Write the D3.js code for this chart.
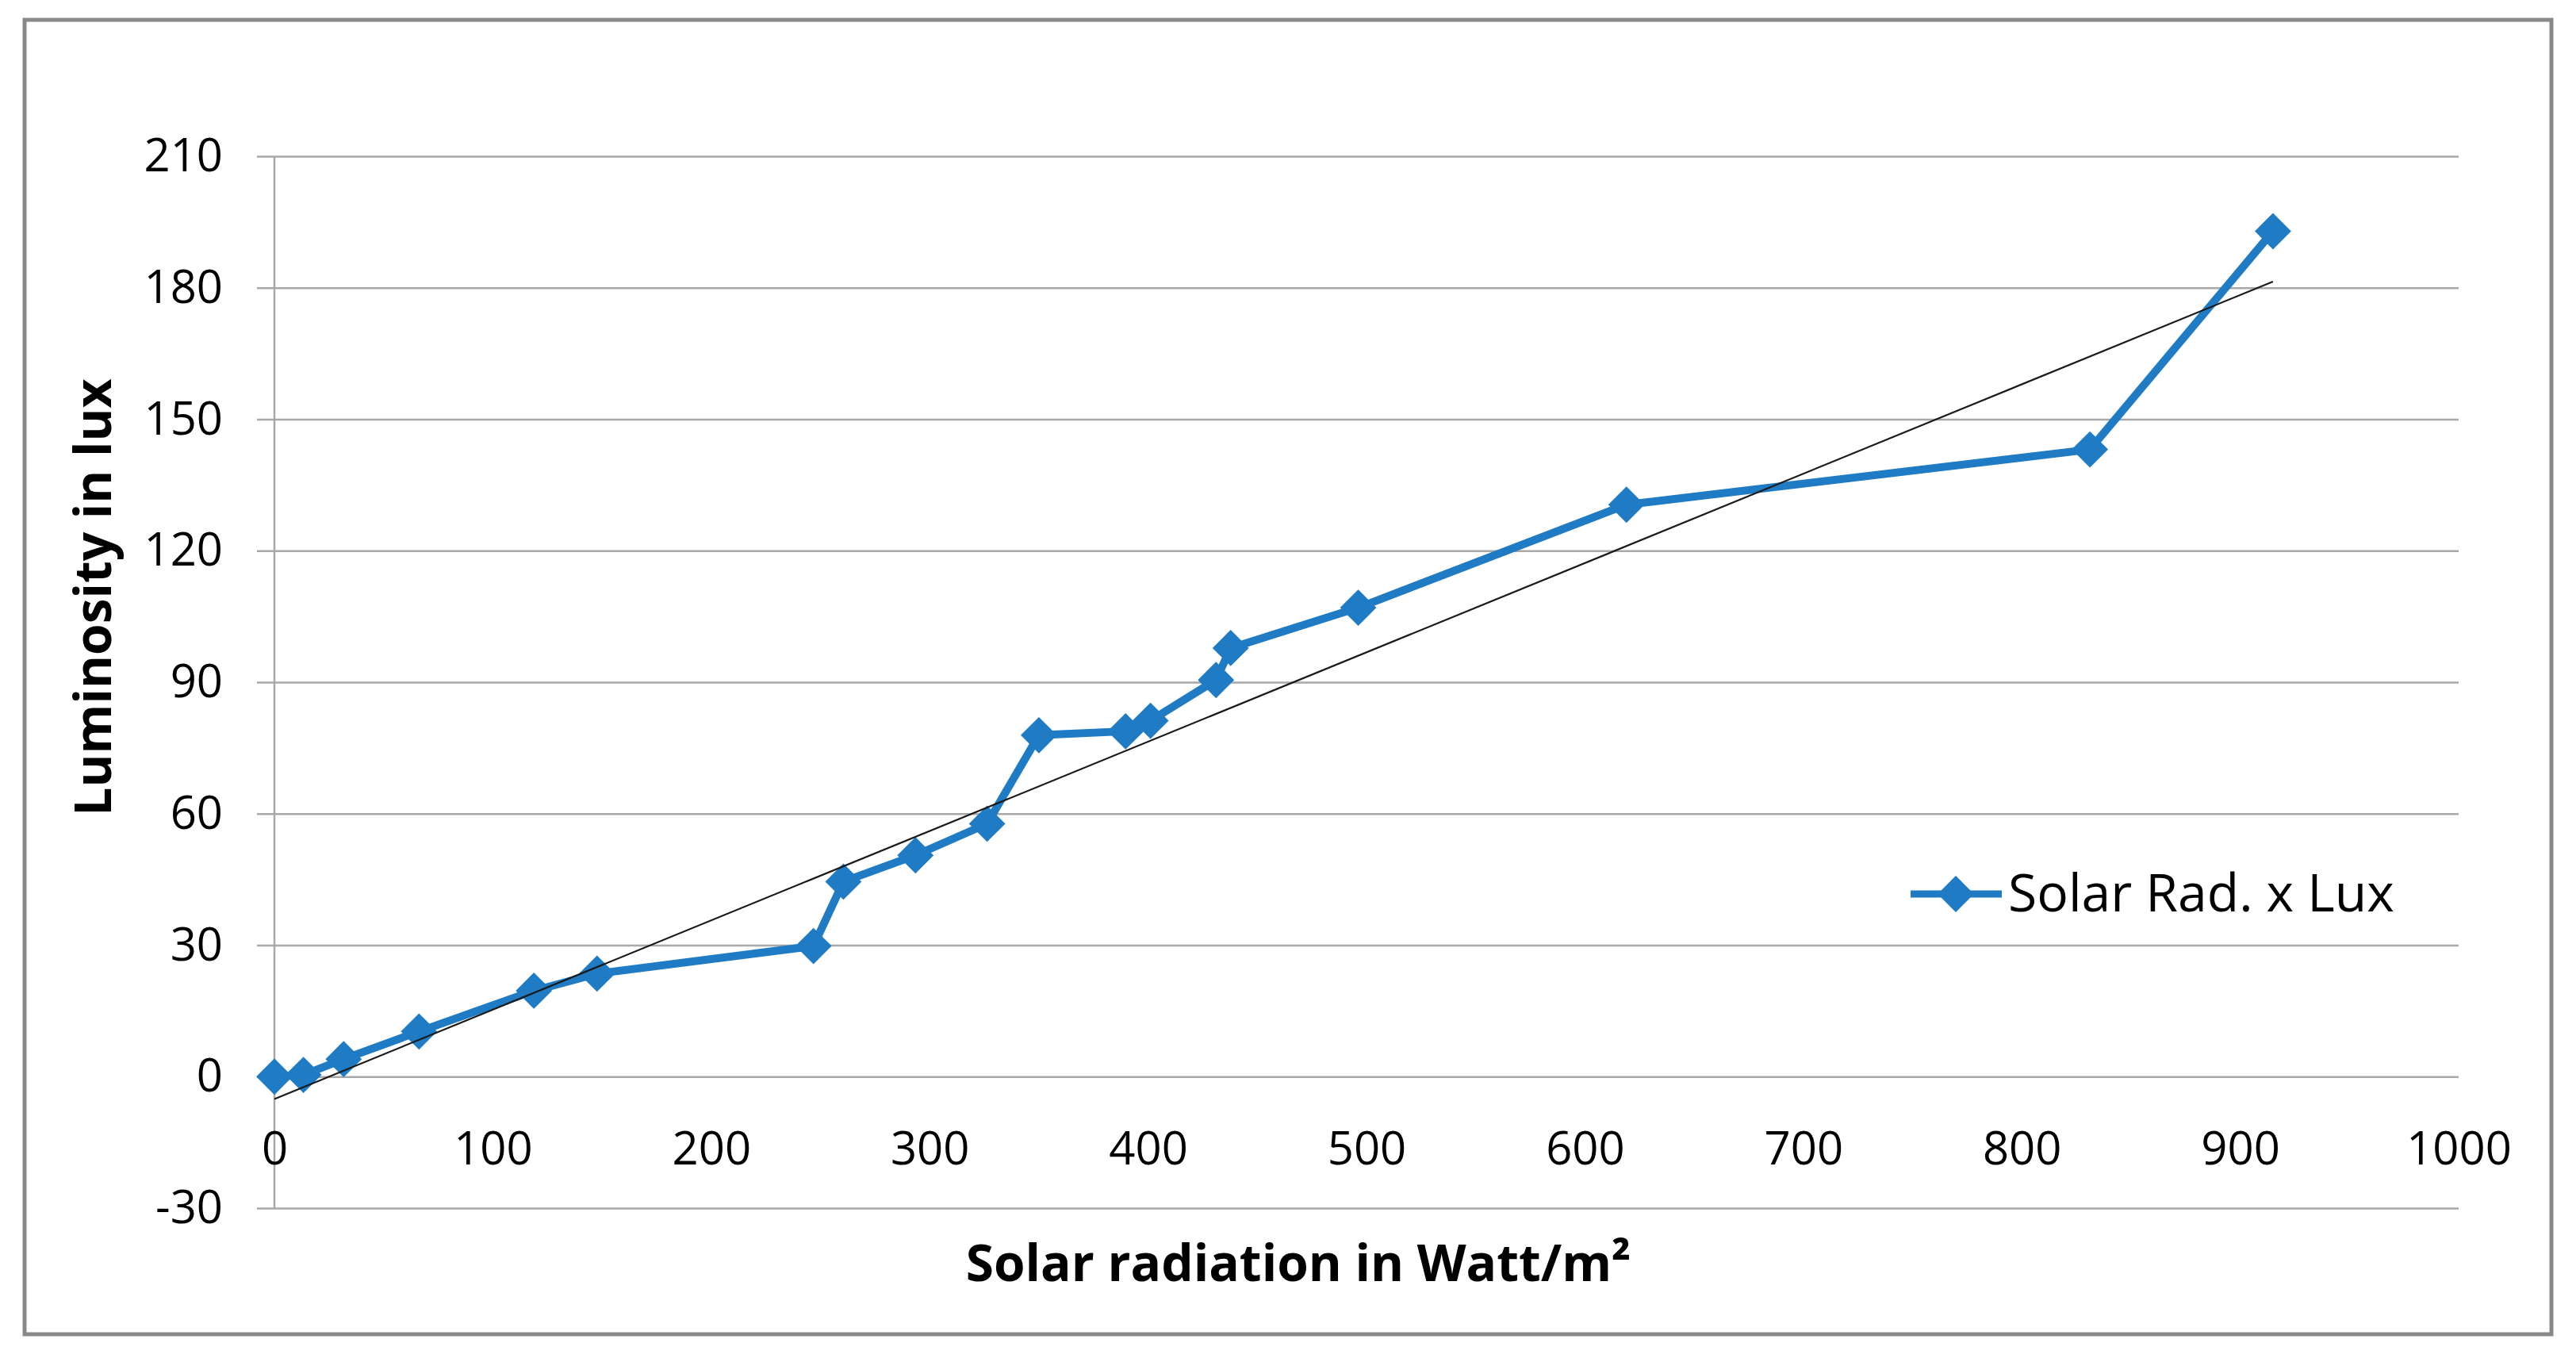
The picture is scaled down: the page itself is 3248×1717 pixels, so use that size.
<!DOCTYPE html>
<html>
<head>
<meta charset="utf-8">
<script src="https://cdn.jsdelivr.net/npm/d3@7"></script>
<style>
  body { margin: 0; background: #fff; }
  text { font-family: 'Open Sans', sans-serif; fill: #000; }
</style>
</head>
<body>
<div id="chart-container"></div>
<script>
// values
var radiation = [0, 13.3, 31.7, 66.2, 118.8, 147.7, 246.8, 260.5, 293.5, 326.3, 350, 389.7, 401.1, 431.1, 437.8, 496.2, 619, 831.2, 915]
var luminosity = [0, 0.4, 4.0, 10.3, 19.6, 23.5, 29.8, 44.5, 50.5, 57.7, 77.9, 78.8, 81.2, 90.5, 97.8, 107, 130.5, 143.1, 192.9]

// linear trend line, end points
var trendX = [0, 915]
var trendY = [-5.1, 181.4]

var xTicks = [0, 100, 200, 300, 400, 500, 600, 700, 800, 900, 1000]
var yTicks = [-30, 0, 30, 60, 90, 120, 150, 180, 210]

var seriesName = 'Solar Rad. x Lux'
var xTitle = 'Solar radiation in Watt/m²'
var yTitle = 'Luminosity in lux'

var width = 3248
var height = 1717
var blue = '#1f7bc4'
var gridColor = '#a8a8a8'

var svg = d3
  .select('#chart-container')
  .append('svg')
  .attr('width', width)
  .attr('height', height)

// chart frame
svg
  .append('rect')
  .attr('x', 31)
  .attr('y', 25)
  .attr('width', 3186)
  .attr('height', 1657)
  .attr('fill', '#fff')
  .attr('stroke', '#898989')
  .attr('stroke-width', 5)

var x = d3.scaleLinear().domain([0, 1000]).range([346, 3100])
var y = d3.scaleLinear().domain([-30, 210]).range([1523, 197])

// plain numbers, ascii minus, no thousands comma
var plain = function (d) {
  return String(d)
}

// y axis + horizontal gridlines
var gridLeft = 324
var yAxis = svg
  .append('g')
  .attr('transform', 'translate(' + gridLeft + ',0)')
  .call(
    d3
      .axisLeft(y)
      .tickValues(yTicks)
      .tickFormat(plain)
      .tickSize(-(x.range()[1] - gridLeft))
      .tickPadding(43)
  )
yAxis.select('.domain').remove()
yAxis.selectAll('line').attr('stroke', gridColor).attr('stroke-width', 2.5)
yAxis
  .selectAll('text')
  .attr('font-size', 58)
  .attr('font-family', "'Open Sans', sans-serif")

// vertical axis line
svg
  .append('line')
  .attr('x1', x(0))
  .attr('x2', x(0))
  .attr('y1', y(210))
  .attr('y2', y(-30))
  .attr('stroke', gridColor)
  .attr('stroke-width', 2.5)

// x axis labels, sitting below the zero line
var xAxis = svg
  .append('g')
  .attr('transform', 'translate(0,' + y(0) + ')')
  .call(d3.axisBottom(x).tickValues(xTicks).tickFormat(plain).tickSize(0))
xAxis.select('.domain').remove()
xAxis
  .selectAll('text')
  .attr('y', 111)
  .attr('dy', 0)
  .attr('font-size', 58)
  .attr('font-family', "'Open Sans', sans-serif")

// data series
var points = radiation.map(function (r, i) {
  return { x: r, y: luminosity[i] }
})

svg
  .append('path')
  .datum(points)
  .attr('fill', 'none')
  .attr('stroke', blue)
  .attr('stroke-width', 10)
  .attr('stroke-linejoin', 'round')
  .attr(
    'd',
    d3
      .line()
      .x(function (d) {
        return x(d.x)
      })
      .y(function (d) {
        return y(d.y)
      })
  )

var diamond = d3.symbol().type(d3.symbolSquare).size(1050)

svg
  .append('g')
  .selectAll('path')
  .data(points)
  .join('path')
  .attr('d', diamond)
  .attr('fill', blue)
  .attr(
    'transform',
    (d) => 'translate(' + x(d.x) + ',' + y(d.y) + ') rotate(45)'
  )

// trend line, on top of the series
var trend = trendX.map(function (t, i) {
  return { x: t, y: trendY[i] }
})
svg
  .append('path')
  .datum(trend)
  .attr('fill', 'none')
  .attr('stroke', '#1a1a1a')
  .attr('stroke-width', 2.2)
  .attr(
    'd',
    d3
      .line()
      .x((d) => x(d.x))
      .y((d) => y(d.y))
  )

// legend
var legend = svg.append('g').attr('transform', 'translate(2409,1127)')
legend
  .append('line')
  .attr('x1', 0)
  .attr('x2', 115)
  .attr('stroke', blue)
  .attr('stroke-width', 9)
legend
  .append('path')
  .attr('d', diamond)
  .attr('fill', blue)
  .attr('transform', 'translate(57,0) rotate(45)')
legend
  .append('text')
  .attr('x', 123)
  .attr('y', 22)
  .attr('font-size', 66)
  .text(seriesName)

// axis titles
svg
  .append('text')
  .attr('x', 1637)
  .attr('y', 1615)
  .attr('text-anchor', 'middle')
  .attr('font-size', 64)
  .attr('font-weight', 'bold')
  .text(xTitle)

svg
  .append('text')
  .attr('transform', 'translate(140,753) rotate(-90)')
  .attr('text-anchor', 'middle')
  .attr('font-size', 64)
  .attr('font-weight', 'bold')
  .text(yTitle)
</script>
</body>
</html>
